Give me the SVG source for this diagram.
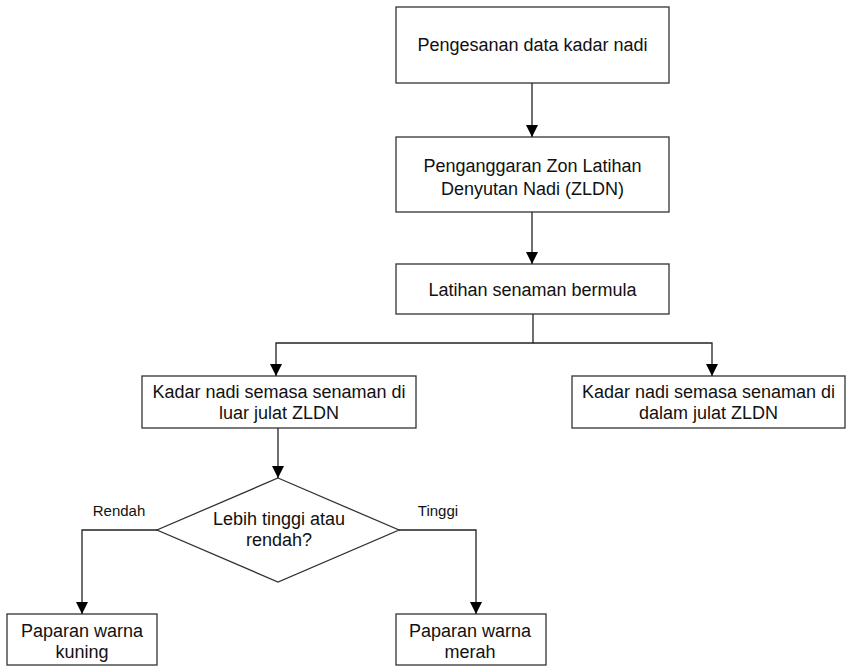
<svg xmlns="http://www.w3.org/2000/svg" width="846" height="667" viewBox="0 0 846 667">
<style>
.box{fill:#fff;stroke:#333;stroke-width:1.3}
.t{font-family:"Liberation Sans",Arial,sans-serif;font-size:18px;fill:#111;text-anchor:middle;dominant-baseline:central}
.lbl{font-family:"Liberation Sans",Arial,sans-serif;font-size:15px;fill:#111;text-anchor:middle;dominant-baseline:central}
.c{fill:none;stroke:#222;stroke-width:1.3}
</style>
<defs>
<marker id="ah" markerWidth="12" markerHeight="14" refX="12" refY="6" orient="auto" markerUnits="userSpaceOnUse" viewBox="0 0 12 12">
<path d="M0,0 L12,6 L0,12 Z" fill="#000"/>
</marker>
</defs>
<rect width="846" height="667" fill="#fff"/>
<g id="n1"><rect class="box" x="396" y="7" width="273" height="76"/><text class="t" x="532.5" y="45">Pengesanan data kadar nadi</text></g>
<g id="n2"><rect class="box" x="396" y="137" width="273" height="75"/><text class="t" x="532.5" y="166">Penganggaran Zon Latihan</text><text class="t" x="532.5" y="189">Denyutan Nadi (ZLDN)</text></g>
<g id="n3"><rect class="box" x="396" y="264" width="273" height="50"/><text class="t" x="532.5" y="290">Latihan senaman bermula</text></g>
<g id="n4"><rect class="box" x="142" y="376" width="274" height="52"/><text class="t" x="279" y="392">Kadar nadi semasa senaman di</text><text class="t" x="279" y="413">luar julat ZLDN</text></g>
<g id="n5"><rect class="box" x="572" y="376" width="273" height="52"/><text class="t" x="708.5" y="392">Kadar nadi semasa senaman di</text><text class="t" x="708.5" y="413">dalam julat ZLDN</text></g>
<g id="n6"><polygon class="box" points="278,478 399,530 278,582 157,530"/><text class="t" x="279" y="519">Lebih tinggi atau</text><text class="t" x="279" y="540">rendah?</text></g>
<g id="n7"><rect class="box" x="7" y="614" width="150" height="51"/><text class="t" x="82" y="631">Paparan warna</text><text class="t" x="82" y="652">kuning</text></g>
<g id="n8"><rect class="box" x="396" y="614" width="150" height="51"/><text class="t" x="470" y="631">Paparan warna</text><text class="t" x="470" y="652">merah</text></g>
<g id="connectors">
<path class="c" d="M532,83 V137" marker-end="url(#ah)"/>
<path class="c" d="M532,212 V264" marker-end="url(#ah)"/>
<path class="c" d="M533,314 V343 H276 V376" marker-end="url(#ah)"/>
<path class="c" d="M533,343 H712 V376" marker-end="url(#ah)"/>
<path class="c" d="M278,428 V478" marker-end="url(#ah)"/>
<path class="c" d="M157,530 H82 V614" marker-end="url(#ah)"/>
<path class="c" d="M399,530 H476 V614" marker-end="url(#ah)"/>
<text class="lbl" x="119" y="510">Rendah</text>
<text class="lbl" x="438" y="510">Tinggi</text>
</g>
</svg>
